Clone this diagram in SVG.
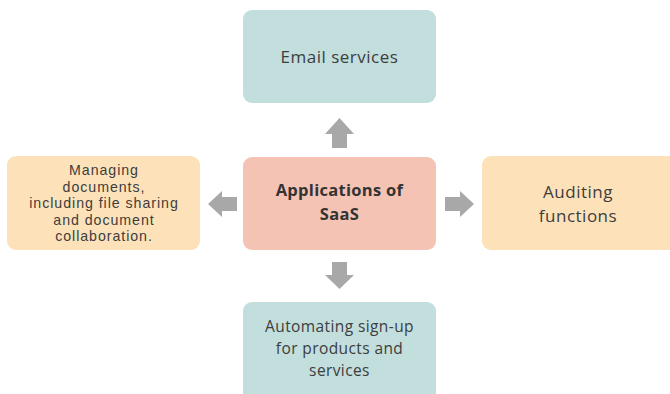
<svg xmlns="http://www.w3.org/2000/svg" width="670" height="394" viewBox="0 0 670 394">
  <style>
    .teal { fill: #c2dedd; }
    .peach { fill: #f5c3b3; }
    .sand { fill: #fde2b9; }
    .arrow { fill: #a8a8a8; }
    text { font-family: "Open Sans", "Noto Sans", sans-serif; fill: #3d3d3d; text-anchor: middle; }
    .lbl { font-size: 17px; letter-spacing: 0.5px; }
    .sm { font-family: "Liberation Sans", Arial, sans-serif; font-size: 14.2px; letter-spacing: 0.95px; }
    .sub { font-size: 15.5px; letter-spacing: 0.4px; }
    .hub { font-size: 16.5px; font-weight: 700; fill: #333333; letter-spacing: 0.3px; }
  </style>
  <rect width="670" height="394" fill="#ffffff"/>

  <g id="node-email">
    <rect class="teal" x="243" y="10" width="193" height="93" rx="9"/>
    <text class="lbl" x="339.5" y="63">Email services</text>
  </g>

  <g id="node-center">
    <rect class="peach" x="243" y="157" width="193" height="93" rx="9"/>
    <text class="hub" x="339.5" y="196">Applications of</text>
    <text class="hub" x="339.5" y="220">SaaS</text>
  </g>

  <g id="node-documents">
    <rect class="sand" x="7" y="156" width="193" height="94" rx="9"/>
    <text class="sm" x="104" y="175">Managing</text>
    <text class="sm" x="104" y="191.5">documents,</text>
    <text class="sm" x="104" y="208">including file sharing</text>
    <text class="sm" x="104" y="224.5">and document</text>
    <text class="sm" x="104" y="241">collaboration.</text>
  </g>

  <g id="node-auditing">
    <rect class="sand" x="482" y="156" width="198" height="94" rx="9"/>
    <text class="lbl" x="578" y="198">Auditing</text>
    <text class="lbl" x="578" y="222">functions</text>
  </g>

  <g id="node-signup">
    <rect class="teal" x="243" y="302" width="193" height="100" rx="9"/>
    <text class="sub" x="339.5" y="332">Automating sign-up</text>
    <text class="sub" x="339.5" y="354">for products and</text>
    <text class="sub" x="339.5" y="376">services</text>
  </g>

  <g id="connectors">
    <!-- up -->
    <polygon class="arrow" points="339.5,118 354,134 347,134 347,148 332,148 332,134 325,134"/>
    <!-- left -->
    <polygon class="arrow" points="208,204 222,191 222,197 237,197 237,211 222,211 222,217"/>
    <!-- right -->
    <polygon class="arrow" points="474,204 460,191 460,197 445,197 445,211 460,211 460,217"/>
    <!-- down -->
    <polygon class="arrow" points="339.5,289 354,275 347,275 347,262 332,262 332,275 325,275"/>
  </g>
</svg>
